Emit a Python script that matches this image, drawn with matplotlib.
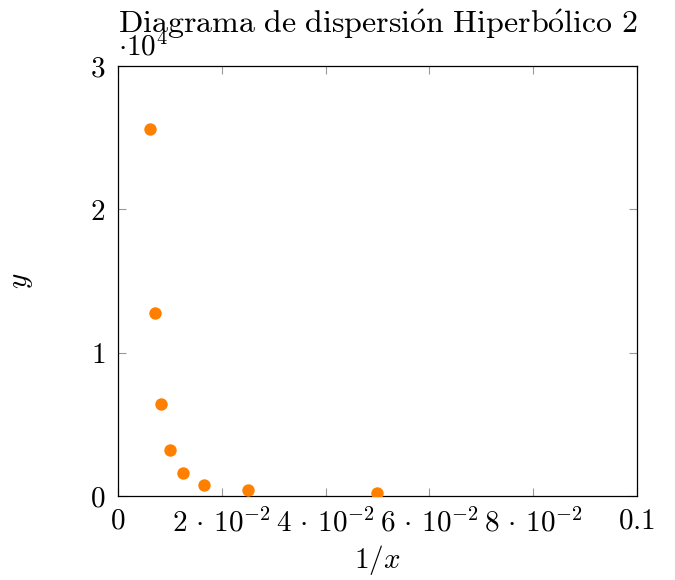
import matplotlib
matplotlib.use("Agg")
import matplotlib.pyplot as plt

# 1/x values and y values of the hyperbolic scatter
x_vals = [160, 140, 120, 100, 80, 60, 40, 20]
y_vals = [25600, 12800, 6400, 3200, 1600, 800, 400, 200]
inv_x = [1.0 / v for v in x_vals]

xticks = [0, 0.02, 0.04, 0.06, 0.08, 0.1]
xtick_labels = ['$0$', r'$2\,\cdot\,10^{-2}$', r'$4\,\cdot\,10^{-2}$',
                r'$6\,\cdot\,10^{-2}$', r'$8\,\cdot\,10^{-2}$', '$0.1$']
yticks = [0, 10000, 20000, 30000]
ytick_labels = ['$0$', '$1$', '$2$', '$3$']
title = r'$\mathrm{Diagrama\ de\ dispersi\acute{o}n\ Hiperb\acute{o}lico\ 2}$'

plt.rcParams['font.family'] = ['cmr10', 'DejaVu Serif']
plt.rcParams['mathtext.fontset'] = 'cm'
plt.rcParams['axes.unicode_minus'] = False

fig = plt.figure(figsize=(6.75, 5.8), dpi=100)
ax = fig.add_axes([0.1748, 0.1448, 0.7689, 0.7414])

ax.scatter(inv_x, y_vals, s=80, color='#ff8000', zorder=3, linewidths=0)

ax.set_xlim(0, 0.1)
ax.set_ylim(0, 30000)
ax.set_xticks(xticks)
ax.set_xticklabels(xtick_labels)
ax.set_yticks(yticks)
ax.set_yticklabels(ytick_labels)
ax.tick_params(direction='in', length=6, width=0.8, color='#999999',
               top=True, right=True, labelsize=21, pad=9)
for s in ax.spines.values():
    s.set_linewidth(0.9)

ax.text(0.0, 1.01, r'$\cdot10^4$', transform=ax.transAxes, fontsize=21,
        ha='left', va='bottom')

ax.set_xlabel('$1/x$', fontsize=21, labelpad=4)
ax.set_ylabel('$y$', fontsize=21, labelpad=40)
ax.set_title(title, fontsize=23, pad=24)

fig.savefig('out.png', dpi=100)
